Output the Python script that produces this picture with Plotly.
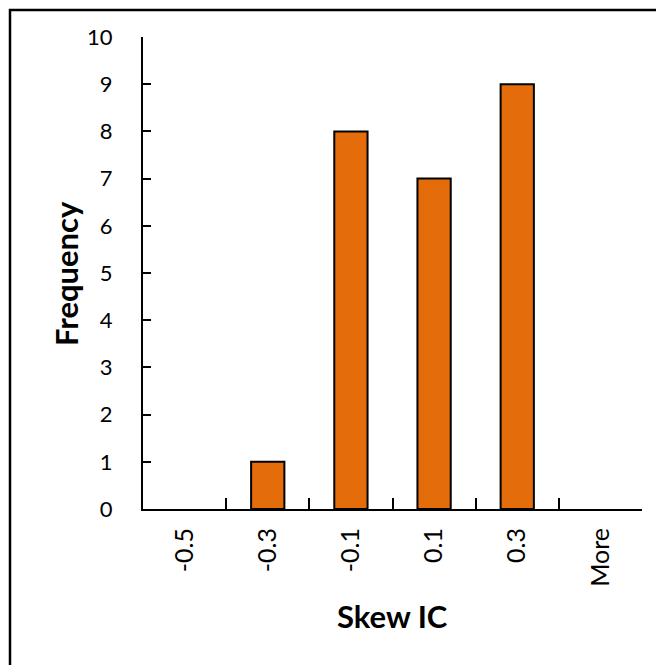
import plotly.graph_objects as go

categories = ["-0.5", "-0.3", "-0.1", "0.1", "0.3", "More"]
frequency = [0, 1, 8, 7, 9, 0]
y_ticks = list(range(0, 11))

FONT = "Lato, 'Open Sans', sans-serif"

# zero-height bins show no outline
outline_widths = [0 if v == 0 else 2 for v in frequency]

fig = go.Figure(
    go.Bar(
        x=categories,
        y=frequency,
        marker=dict(color="#E46C0A", line=dict(color="black", width=outline_widths)),
        width=0.4,
    )
)

# page has an 8px body margin; plot area in page pixels: x 143..642, y 37..509
OFF = 8
L, R, T, B = 143, 642, 37, 509
W, H = 664 - OFF, 665 - OFF
pw, ph = R - L, B - T

def px_x(x):
    return (x - L) / pw

def px_y(y):
    return (B - y) / ph

fig.update_layout(
    width=W,
    height=H,
    margin=dict(l=L - OFF, r=W - (R - OFF), t=T - OFF, b=H - (B - OFF), autoexpand=False),
    paper_bgcolor="white",
    plot_bgcolor="white",
    showlegend=False,
    font=dict(family=FONT, size=22, color="black"),
    xaxis=dict(
        type="category",
        showline=True,
        linecolor="black",
        linewidth=2,
        ticks="inside",
        ticklen=11,
        tickwidth=1.5,
        tickcolor="black",
        tickson="boundaries",
        tickangle=-90,
        tickfont=dict(family=FONT, size=25, color="black"),
        showgrid=False,
        ticklabelstandoff=7,
        range=[-0.5, 5.5],
        automargin=False,
    ),
    yaxis=dict(
        range=[0, 10],
        tickvals=y_ticks,
        showline=True,
        linecolor="black",
        linewidth=2,
        ticks="inside",
        ticklen=8,
        tickwidth=1.5,
        tickcolor="black",
        tickfont=dict(family=FONT, size=22, color="black"),
        showgrid=False,
        zeroline=False,
        ticklabelstandoff=24,
        automargin=False,
    ),
    annotations=[
        dict(
            text="<b>Skew IC</b>", xref="paper", yref="paper",
            x=px_x(392), y=px_y(616), showarrow=False,
            font=dict(family=FONT, size=31, color="black"),
            xanchor="center", yanchor="middle",
        ),
        dict(
            text="<b>Frequency</b>", xref="paper", yref="paper",
            x=px_x(66), y=px_y(274), showarrow=False, textangle=-90,
            font=dict(family=FONT, size=31, color="black"),
            xanchor="center", yanchor="middle",
        ),
    ],
    shapes=[
        dict(
            type="rect", xref="paper", yref="paper",
            x0=px_x(10), x1=px_x(690), y0=px_y(10), y1=px_y(690),
            line=dict(color="black", width=2.5), fillcolor="rgba(0,0,0,0)",
            layer="below",
        )
    ],
)

fig.write_html("out.html")
